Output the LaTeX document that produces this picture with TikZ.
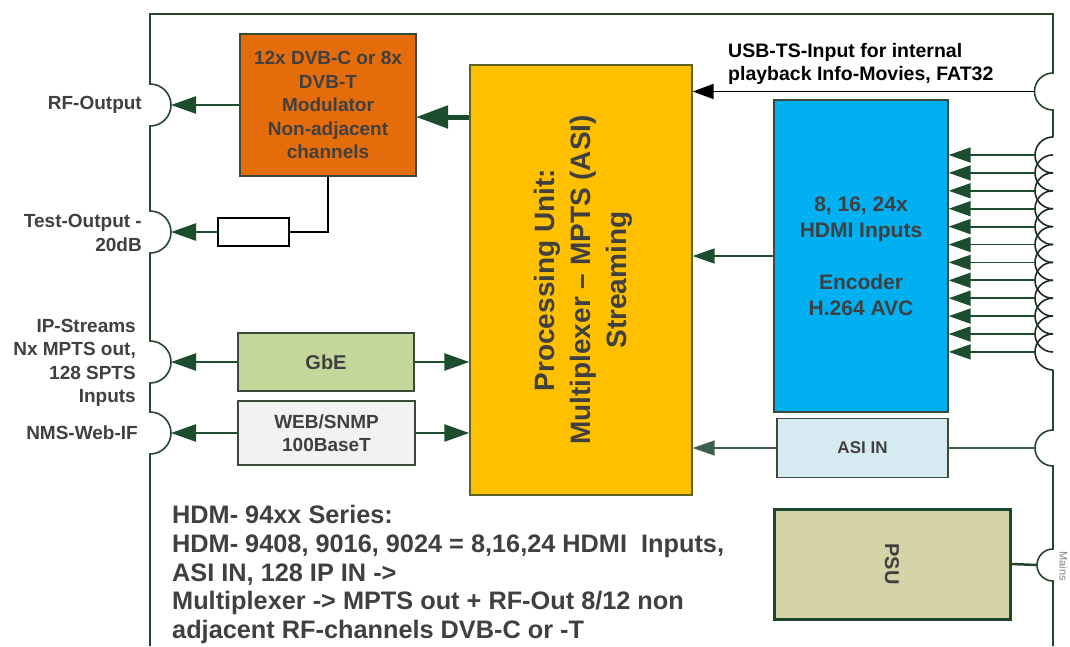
\documentclass[tikz,border=0pt]{standalone}
\usepackage{fontspec}
\setmainfont{Liberation Sans}
\usetikzlibrary{arrows.meta}
\definecolor{framec}{HTML}{26452E}
\definecolor{wire}{HTML}{1B4D2E}
\definecolor{txt}{HTML}{404040}
\definecolor{edgec}{HTML}{3A4A3A}
\definecolor{modfill}{HTML}{E46C0A}
\definecolor{procfill}{HTML}{FFC000}
\definecolor{procedge}{HTML}{5E6420}
\definecolor{encfill}{HTML}{00B0F0}
\definecolor{asifill}{HTML}{D6EBF1}
\definecolor{gbefill}{HTML}{C4D79B}
\definecolor{webfill}{HTML}{F2F2F2}
\definecolor{psufill}{HTML}{D4D4A8}
\definecolor{psuedge}{HTML}{1F472C}
\definecolor{asiwire}{HTML}{3F5F4D}
\definecolor{portc}{HTML}{1C2A22}
\begin{document}
\begin{tikzpicture}[x=1pt,y=-1pt,
  blk/.style={draw=edgec, line width=1.4pt, inner sep=0pt, align=center,
    text=txt, font=\bfseries\fontsize{19}{23.5}\selectfont},
  lbl/.style={inner sep=0pt, text=txt, font=\bfseries\fontsize{19}{23.5}\selectfont},
  arr/.style={draw=wire, line width=2.5pt, -{Triangle[length=25pt,width=17pt]}},
  bigarr/.style={draw=wire, line width=5pt, -{Triangle[length=32pt,width=22pt]}},
  smallarr/.style={draw=wire, line width=1.8pt, -{Triangle[length=22pt,width=15pt]}},
  usbarr/.style={draw=black, line width=1.8pt, -{Triangle[length=21pt,width=15pt]}},
  asiarr/.style={draw=asiwire, line width=1.6pt, -{Triangle[length=22pt,width=15pt]}},
  port/.style={draw=portc, line width=1.6pt},
]
\useasboundingbox (0,0) rectangle (1070,646);

% housing outline with its connector bumps
\draw[draw=framec, line width=1.6pt]
  (150,646) -- (150,454) arc[start angle=90,end angle=-90,radius=21]
  -- (150,383) arc[start angle=90,end angle=-90,radius=21]
  -- (150,253) arc[start angle=90,end angle=-90,radius=21]
  -- (150,126) arc[start angle=90,end angle=-90,radius=21]
  -- (150,14) -- (1053,14) -- (1053,73)
  arc[start angle=-90,end angle=-270,radius=18.5] -- (1053,137);
\draw[draw=framec, line width=1.6pt]
  (1053,370) -- (1053,430) arc[start angle=-90,end angle=-270,radius=18]
  -- (1053,549) arc[start angle=-90,end angle=-270,radius=16] -- (1053,646);

% connector points
\coordinate (rfport) at (171,105);
\coordinate (testport) at (171,232);
\coordinate (ipport) at (171,362);
\coordinate (nmsport) at (171,433);
\coordinate (usbport) at (1034.5,91.5);
\coordinate (asiport) at (1035,448);
\coordinate (mainsport) at (1037,565);
\coordinate (modin) at (416,117);

% HDMI input sockets
\foreach \i in {1,...,12}{
  \pgfmathsetmacro{\hy}{155+17.9*(\i-1)}
  \coordinate (h\i) at (1035,\hy);
  \draw[port] (1053,\hy-18) arc[start angle=-90,end angle=-270,radius=18];
}

% function blocks
\node[blk, fill=modfill, minimum width=176pt, minimum height=142pt] (mod) at (328,105)
  {12x DVB-C or 8x\\DVB-T\\Modulator\\Non-adjacent\\channels};
\node[blk, draw=procedge, fill=procfill, minimum width=222pt, minimum height=430pt] (proc) at (581,280) {};
\node[rotate=90, align=center, text=txt, inner sep=0pt,
  font=\bfseries\fontsize{28}{36}\selectfont] (proclbl) at (583,280)
  {Processing Unit:\\Multiplexer – MPTS (ASI)\\Streaming};
\node[blk, fill=encfill, minimum width=174pt, minimum height=312pt,
  font=\bfseries\fontsize{21}{26}\selectfont] (enc) at (861,256)
  {8, 16, 24x\\HDMI Inputs\\[26pt]Encoder\\H.264 AVC};
\node[blk, fill=asifill, minimum width=171pt, minimum height=59pt,
  font=\bfseries\fontsize{17}{21}\selectfont] (asi) at (862.5,448) {ASI IN};
\node[blk, draw=psuedge, line width=3pt, fill=psufill, minimum width=236pt, minimum height=110pt] (psu) at (892,564) {};
\node[rotate=-90, text=txt, inner sep=0pt, font=\bfseries\fontsize{20}{24}\selectfont] (psulbl) at (892,564) {PSU};
\node[blk, fill=gbefill, minimum width=176pt, minimum height=58pt,
  font=\bfseries\fontsize{20}{24}\selectfont] (gbe) at (326,362) {GbE};
\node[blk, fill=webfill, minimum width=177pt, minimum height=64pt] (web) at (326.5,433)
  {WEB/SNMP\\100BaseT};
\node[draw=black, line width=1.4pt, fill=white, minimum width=71pt, minimum height=28pt, inner sep=0pt] (res) at (253.5,232) {};

% signal paths
\draw[bigarr] (proc.west |- modin) -- (modin);
\draw[arr] (mod.west) -- (rfport);
\draw[draw=black, line width=1.8pt] (mod.south) |- (res.east);
\draw[arr] (res.west) -- (testport);
\draw[arr] (gbe.west) -- (ipport);
\draw[arr] (gbe.east) -- (gbe.east -| proc.west);
\draw[arr] (web.west) -- (nmsport);
\draw[arr] (web.east) -- (web.east -| proc.west);
\draw[usbarr] (usbport) -- (usbport -| proc.east);
\draw[smallarr] (enc.west) -- (enc.west -| proc.east);
\draw[asiarr] (asi.west) -- (asi.west -| proc.east);
\draw[draw=asiwire, line width=1.6pt] (asi.east) -- (asiport);
\draw[draw=psuedge, line width=2.5pt] (psu.east) -- (mainsport);
\foreach \i in {1,...,12}{
  \draw[smallarr] (h\i) -- (h\i -| enc.east);
}

% port labels
\node[lbl, anchor=east] (rflbl) at (142,105) {RF-Output};
\node[lbl, anchor=east, align=right] (testlbl) at (142,233) {Test-Output -\\20dB};
\node[lbl, anchor=east, align=right] (iplbl) at (136,363) {IP-Streams\\Nx MPTS out,\\128 SPTS\\Inputs};
\node[lbl, anchor=east] (nmslbl) at (138,433) {NMS-Web-IF};
\node[lbl, anchor=west, align=left, text=black, font=\bfseries\fontsize{19.5}{23}\selectfont] (usblbl) at (728,64)
  {USB-TS-Input for internal\\playback Info-Movies, FAT32};
\node[rotate=-90, inner sep=0pt, text=gray, font=\fontsize{11}{13}\selectfont] (mainslbl) at (1063.5,566) {Mains};

% series description
\node[lbl, anchor=north west, align=left,
  font=\bfseries\fontsize{25.3}{28.8}\selectfont] (series) at (172,505)
  {HDM- 94xx Series:\\HDM- 9408, 9016, 9024 = 8,16,24 HDMI\ \ Inputs,\\ASI IN, 128 IP IN ->\\Multiplexer -> MPTS out + RF-Out 8/12 non\\adjacent RF-channels DVB-C or -T};
\end{tikzpicture}
\end{document}
